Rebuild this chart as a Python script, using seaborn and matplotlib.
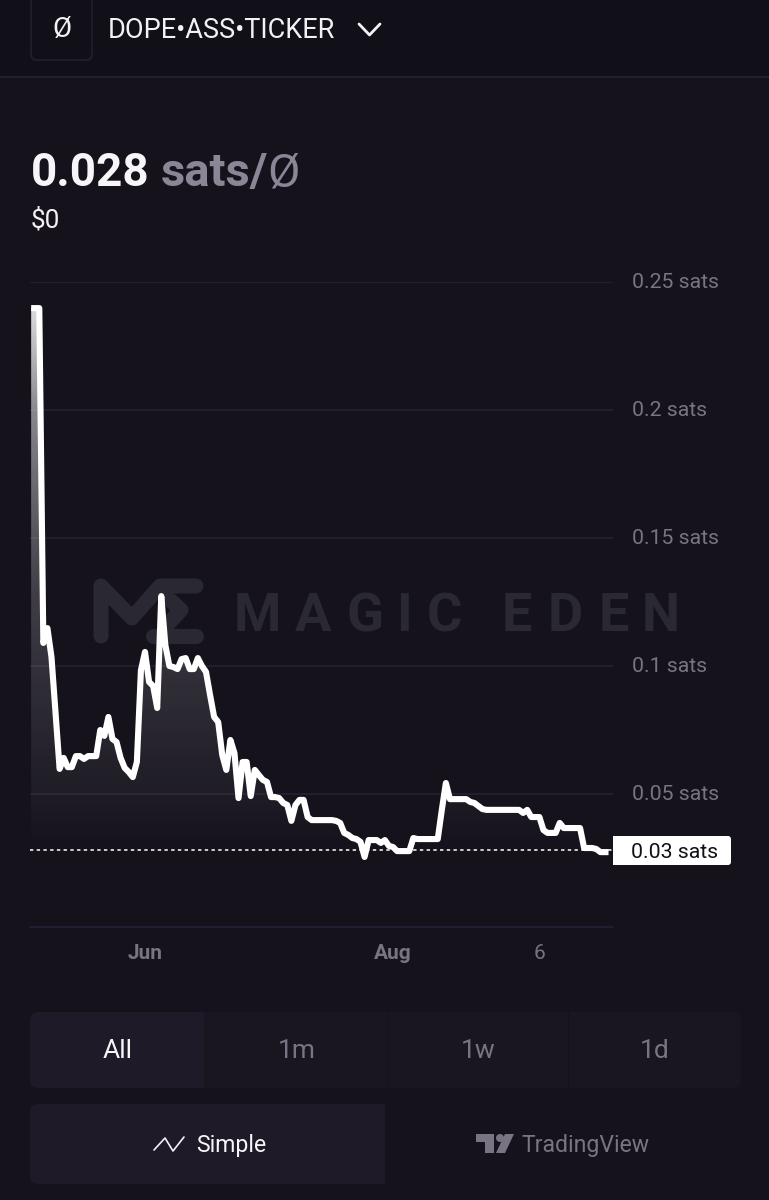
import numpy as np
import pandas as pd
import matplotlib
matplotlib.use("Agg")
import matplotlib.pyplot as plt
import matplotlib.dates as mdates
from matplotlib.patches import FancyBboxPatch, Rectangle, Polygon, Circle
from matplotlib.transforms import ScaledTranslation
import seaborn as sns

# ---- data ----
day_offsets = list(range(-28, 115))   # days relative to 1 June
prices = [
 0.2398,0.2398,0.2398,0.1090,0.1148,0.1035,0.0816,0.0598,0.0641,0.0605,0.0605,0.0648,0.0648,0.0637,0.0648,0.0648,0.0648,
 0.0750,0.0727,0.0801,0.0715,0.0703,0.0641,0.0602,0.0586,0.0566,0.0625,0.0984,0.1055,0.0938,0.0922,0.0836,0.1273,0.1082,
 0.1000,0.0996,0.0988,0.1027,0.1031,0.0988,0.0988,0.1031,0.1000,0.0977,0.0887,0.0801,0.0781,0.0652,0.0594,0.0711,0.0660,
 0.0484,0.0625,0.0625,0.0492,0.0594,0.0574,0.0555,0.0547,0.0488,0.0488,0.0484,0.0465,0.0457,0.0395,0.0457,0.0477,0.0477,
 0.0410,0.0398,0.0398,0.0398,0.0398,0.0398,0.0398,0.0395,0.0387,0.0348,0.0340,0.0328,0.0324,0.0313,0.0254,0.0320,0.0320,
 0.0320,0.0309,0.0320,0.0297,0.0293,0.0277,0.0277,0.0277,0.0277,0.0328,0.0324,0.0324,0.0324,0.0324,0.0324,0.0324,
 0.0438,0.0543,0.0480,0.0480,0.0480,0.0480,0.0480,0.0469,0.0465,0.0453,0.0441,0.0438,0.0438,0.0438,0.0438,0.0438,0.0438,
 0.0438,0.0438,0.0438,0.0426,0.0438,0.0410,0.0410,0.0410,0.0359,0.0348,0.0348,0.0348,0.0387,0.0367,0.0367,0.0367,0.0367,
 0.0367,0.0289,0.0289,0.0289,0.0285,0.0273,0.0273,0.0273,
]
n = min(len(day_offsets), len(prices))
dates = pd.Timestamp("2024-06-01") + pd.to_timedelta(day_offsets[:n], unit="D")
df = pd.DataFrame({"date": dates, "price": prices[:n]})
last_price = 0.028
last_label = "0.03 sats"
y_ticks = [0.05, 0.1, 0.15, 0.2, 0.25]
y_labels = ["0.05 sats", "0.1 sats", "0.15 sats", "0.2 sats", "0.25 sats"]
x_ticks = [pd.Timestamp("2024-06-01"), pd.Timestamp("2024-08-01"), pd.Timestamp("2024-09-06")]
x_labels = ["Jun", "Aug", "6"]
ranges = ["All", "1m", "1w", "1d"]

BG = "#15121c"
HEADER = "#110f18"
GRID = "#282138"
MUTED = "#787482"
PANEL = "#1e1a28"
PANEL2 = "#191620"
WM = "#2a2832"

sns.set_theme(style="dark")
plt.rcParams["font.family"] = ["Roboto", "DejaVu Sans"]

W, H = 769, 1200
fig = plt.figure(figsize=(W / 100, H / 100), dpi=100, facecolor=BG)

# ---- page furniture, in pixel coordinates ----
bg = fig.add_axes([0, 0, 1, 1], zorder=0)
bg.set_xlim(0, W); bg.set_ylim(H, 0); bg.axis("off")
PT = 0.72

def rbox(x0, y0, x1, y1, fc, ec="none", r=6, lw=0, z=1):
    bg.add_patch(FancyBboxPatch((x0 + r, y0 + r), x1 - x0 - 2 * r, y1 - y0 - 2 * r,
                                boxstyle=f"round,pad={r},rounding_size={r}", fc=fc, ec=ec, lw=lw, zorder=z))

bg.add_patch(Rectangle((0, 0), W, 76, fc=HEADER, ec="none", zorder=0.5))
bg.plot([0, W], [76.5, 76.5], color="#262231", lw=1.2, zorder=1)
rbox(31, -10, 92, 60, HEADER, ec="#24212c", r=6, lw=1.2)
bg.text(61.5, 30, "Ø", color="#f2f1f4", fontsize=20, ha="center", va="center")
bg.text(108, 31, "DOPE•ASS•TICKER", color="#f2f1f4", fontsize=19.5, ha="left", va="center")
bg.plot([359, 369.5, 380], [24, 35, 24], color="#f2f1f4", lw=2.0, solid_capstyle="round", solid_joinstyle="round")

bg.text(31, 186, "0.028", color="#f6f5f8", fontsize=33, fontweight="bold", ha="left", va="baseline")
bg.text(161, 186, "sats/", color="#8a8696", fontsize=34, fontweight="bold", ha="left", va="baseline")
bg.text(267, 186, "Ø", color="#8a8696", fontsize=34, ha="left", va="baseline")
bg.text(31, 228, "$0", color="#f2f1f4", fontsize=18.8, ha="left", va="baseline")

# watermark
logo = dict(color=WM, lw=15 * PT, solid_capstyle="round", solid_joinstyle="round", zorder=1)
bg.plot([101, 101, 132, 160, 196], [636, 586, 618, 586, 586], **logo)
bg.plot([168, 181, 168], [598, 610, 624], **logo)
bg.plot([153, 196], [636, 636], **logo)
for ch, cx in zip("MAGICEDEN", [257, 313, 365, 404, 444, 517, 565, 614, 661]):
    bg.text(cx, 631, ch, color=WM, fontsize=39, fontweight="bold", ha="center", va="baseline", zorder=1)

# price tag
rbox(613, 836, 731, 865, "#ffffff", r=3, z=3)
bg.add_patch(Rectangle((613, 836), 8, 29, fc="#ffffff", ec="none", zorder=3))
bg.text(675, 853, last_label, color="#111016", fontsize=15.3, ha="center", va="center", zorder=4)

# range buttons
rbox(30, 1012, 741, 1088, PANEL2, r=9)
rbox(30, 1012, 204, 1088, PANEL, r=9)
bg.add_patch(Rectangle((190, 1012), 14, 76, fc=PANEL, ec="none", zorder=1))
for sep in [387.5, 567.5]:
    bg.plot([sep, sep], [1012, 1088], color="#15121c", lw=1.0, zorder=2)
for lab, cx, col in zip(ranges, [117.5, 296.5, 478, 655], ["#f6f5f8", MUTED, MUTED, MUTED]):
    bg.text(cx, 1051.5, lab, color=col, fontsize=19, ha="center", va="center", zorder=3)

# chart type buttons
rbox(30, 1104, 385, 1184, PANEL, r=8)
bg.add_patch(Rectangle((370, 1104), 15, 80, fc=PANEL, ec="none", zorder=1))
bg.plot([154, 165, 173, 184], [1150, 1138, 1151, 1137], color="#f2f1f4", lw=1.2, zorder=3)
bg.text(196, 1145.5, "Simple", color="#f6f5f8", fontsize=16.6, ha="left", va="center", zorder=3)
bg.add_patch(Polygon([(476, 1134), (494, 1134), (494, 1153), (485, 1153), (485, 1142), (476, 1142)], fc=MUTED, ec="none", zorder=3))
bg.add_patch(Circle((500, 1138), 4, fc=MUTED, ec="none", zorder=3))
bg.add_patch(Polygon([(505, 1134), (514, 1134), (505, 1153), (496, 1153)], fc=MUTED, ec="none", zorder=3))
bg.text(522, 1145.5, "TradingView", color=MUTED, fontsize=16.6, ha="left", va="center", zorder=3)

# ---- chart ----
ax = fig.add_axes([30 / W, 1 - 927 / H, (613 - 30) / W, (927 - 282) / H], zorder=2)
ax.patch.set_alpha(0)
x_left = pd.Timestamp("2024-06-01") + pd.Timedelta(days=(30 - 145) / 4.066)
x_right = pd.Timestamp("2024-06-01") + pd.Timedelta(days=(613 - 145) / 4.066)
y_bottom, y_top = (922 - 927) / 2560, 0.25

ax.grid(True, axis="y", color=GRID, lw=1.1, zorder=0)
ax.grid(False, axis="x")

# gradient area beneath the line
area = ax.fill_between(df["date"], df["price"], y_bottom, color="none", lw=0)
ramp_y = np.linspace(y_top, y_bottom, 300)
alpha = np.interp(ramp_y, [0.0, 0.027, 0.05, 0.10, 0.13, 0.20, 0.24],
                  [0.0, 0.0, 0.045, 0.13, 0.19, 0.50, 0.85])
rgba = np.ones((300, 1, 4)); rgba[..., 3] = alpha[:, None]
im = ax.imshow(rgba, aspect="auto", zorder=1, interpolation="bilinear",
               extent=[mdates.date2num(x_left), mdates.date2num(x_right), y_bottom, y_top])
im.set_clip_path(area.get_paths()[0], transform=area.get_transform())

ax.axhline(last_price, color="#ffffff", lw=1.1, ls=(0, (2.2, 2.2)), zorder=2)
sns.lineplot(data=df, x="date", y="price", ax=ax, color="#ffffff", lw=4.4, zorder=3,
             solid_joinstyle="round", solid_capstyle="butt", errorbar=None)

ax.set_xlim(x_left, x_right)
ax.set_ylim(y_bottom, y_top)
ax.set_xlabel(""); ax.set_ylabel("")
ax.yaxis.tick_right()
ax.set_yticks(y_ticks, y_labels)
ax.set_xticks(x_ticks, x_labels)
ax.tick_params(axis="y", length=0, pad=13.7, labelsize=15.3, labelcolor=MUTED)
ax.tick_params(axis="x", length=0, pad=12.5, labelsize=15, labelcolor=MUTED)
nudge = ScaledTranslation(0, 1 / 100, fig.dpi_scale_trans)
for lab in ax.get_yticklabels():
    lab.set_transform(lab.get_transform() + nudge)
for lab, w in zip(ax.get_xticklabels(), ["bold", "bold", "normal"]):
    lab.set_fontweight(w)
for s in ["top", "left", "right"]:
    ax.spines[s].set_visible(False)
ax.spines["bottom"].set_color(GRID)
ax.spines["bottom"].set_linewidth(1.1)

fig.savefig("out.png", dpi=100, facecolor=BG)
